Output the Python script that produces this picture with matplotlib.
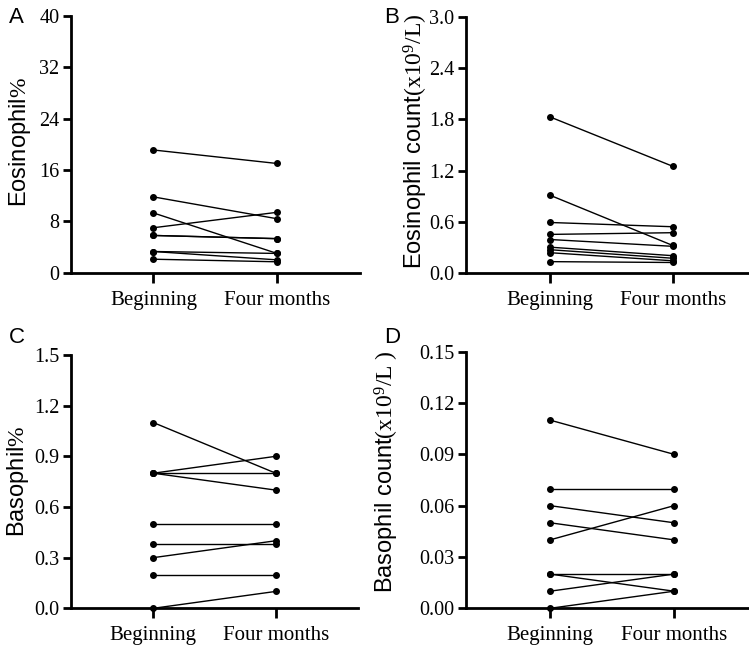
import numpy as np
import matplotlib
matplotlib.use('Agg')
import matplotlib.pyplot as plt
from matplotlib.ticker import FormatStrFormatter

plt.rcParams['font.family'] = 'Liberation Serif'
plt.rcParams['mathtext.fontset'] = 'custom'
plt.rcParams['mathtext.rm'] = 'Liberation Serif'
plt.rcParams['mathtext.it'] = 'Liberation Serif:italic'

groups = ['Beginning', 'Four months']

# paired values (beginning -> four months)
eos_pct_begin = [19.1, 11.8, 9.3, 7.0, 5.8, 5.8, 3.3, 3.3, 2.1]
eos_pct_after = [17.0, 8.4, 3.0, 9.4, 5.3, 5.3, 3.0, 2.0, 1.7]

eos_cnt_begin = [1.83, 0.91, 0.59, 0.45, 0.39, 0.30, 0.27, 0.235, 0.13]
eos_cnt_after = [1.25, 0.32, 0.54, 0.47, 0.31, 0.20, 0.17, 0.14, 0.12]

baso_pct_begin = [1.1, 0.8, 0.8, 0.8, 0.5, 0.38, 0.3, 0.2, 0.0]
baso_pct_after = [0.8, 0.9, 0.8, 0.7, 0.5, 0.38, 0.4, 0.2, 0.1]

baso_cnt_begin = [0.11, 0.07, 0.06, 0.05, 0.04, 0.02, 0.02, 0.01, 0.00]
baso_cnt_after = [0.09, 0.07, 0.05, 0.04, 0.06, 0.02, 0.01, 0.02, 0.01]

panels = [
    dict(letter='A', begin=eos_pct_begin, after=eos_pct_after,
         yticks=np.arange(0, 41, 8), fmt='%d',
         label=r'Eosinophil$\mathrm{\%}$',
         rect=[0.0944, 0.5798, 0.386, 0.396], xlim=(-0.67, 1.67),
         lab_xy=(20, 142), let_xy=(9, 7)),
    dict(letter='B', begin=eos_cnt_begin, after=eos_cnt_after,
         yticks=np.arange(0, 3.01, 0.6), fmt='%.1f',
         label=r'Eosinophil count$\mathrm{(x10^9/L)}$',
         rect=[0.6218, 0.5798, 0.377, 0.3935], xlim=(-0.687, 1.614),
         lab_xy=(416, 141), let_xy=(384, 7)),
    dict(letter='C', begin=baso_pct_begin, after=baso_pct_after,
         yticks=np.arange(0, 1.51, 0.3), fmt='%.1f',
         label=r'Basophil$\mathrm{\%}$',
         rect=[0.0944, 0.0627, 0.3836, 0.3903], xlim=(-0.675, 1.672),
         lab_xy=(18, 481), let_xy=(9, 327)),
    dict(letter='D', begin=baso_cnt_begin, after=baso_cnt_after,
         yticks=np.arange(0, 0.151, 0.03), fmt='%.2f',
         label=r'Basophil count$\mathrm{(x10^9/L\ )}$',
         rect=[0.6218, 0.0627, 0.377, 0.3954], xlim=(-0.68, 1.597),
         lab_xy=(387, 472), let_xy=(384, 327)),
]

W, H = 749, 649
fig = plt.figure(figsize=(7.49, 6.49), dpi=100)

for p in panels:
    ax = fig.add_axes(p['rect'])
    for b, a in zip(p['begin'], p['after']):
        ax.plot([0, 1], [b, a], '-', color='black', lw=1.0,
                marker='o', ms=4, clip_on=False, zorder=3)
    ax.set_xlim(*p['xlim'])
    ax.set_ylim(p['yticks'][0], p['yticks'][-1])
    ax.set_yticks(p['yticks'])
    ax.yaxis.set_major_formatter(FormatStrFormatter(p['fmt']))
    ax.set_xticks([0, 1])
    ax.set_xticklabels(groups, fontsize=15)
    ax.tick_params(axis='y', labelsize=14.5, width=2, length=6, pad=2)
    ax.tick_params(axis='x', width=2, length=7, pad=6)
    for s in ['top', 'right']:
        ax.spines[s].set_visible(False)
    for s in ['left', 'bottom']:
        ax.spines[s].set_linewidth(2)
    fig.text(p['lab_xy'][0] / W, 1 - p['lab_xy'][1] / H, p['label'],
             rotation=90, ha='center', va='center', fontsize=17,
             family='Liberation Sans')
    fig.text(p['let_xy'][0] / W, 1 - p['let_xy'][1] / H, p['letter'],
             ha='left', va='top', fontsize=16, family='Liberation Sans')

fig.savefig('out.png', dpi=100)
